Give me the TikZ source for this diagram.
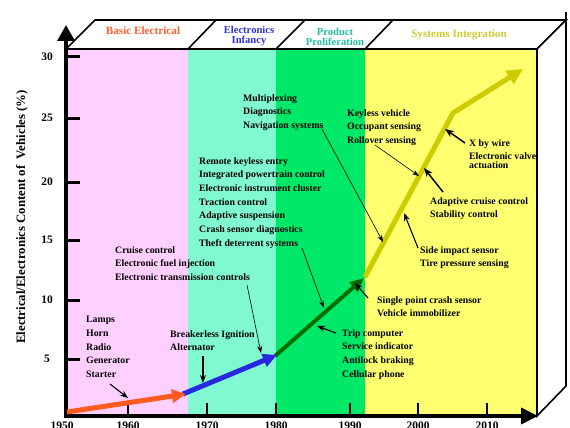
\documentclass[tikz,border=0pt]{standalone}
\usepackage{fontspec}
\setmainfont{Liberation Serif}
\usetikzlibrary{arrows.meta}
\definecolor{pinkbg}{RGB}{255,208,255}
\definecolor{aquabg}{RGB}{128,248,208}
\definecolor{greenbg}{RGB}{0,232,104}
\definecolor{yellowbg}{RGB}{255,255,112}
\definecolor{orangec}{RGB}{255,90,30}
\definecolor{bluec}{RGB}{40,40,224}
\definecolor{greenc}{RGB}{0,110,0}
\definecolor{olivec}{RGB}{204,204,0}
\definecolor{hdorange}{RGB}{255,96,48}
\definecolor{hdblue}{RGB}{50,50,220}
\definecolor{hdteal}{RGB}{32,192,160}
\definecolor{hdyellow}{RGB}{204,204,51}
\tikzset{
  boxline/.style={line width=1.6pt, line join=miter},
  axisline/.style={line width=3.6pt},
  ytick/.style={line width=3pt},
  xtick/.style={line width=2pt},
  ticklab/.style={font=\bfseries\fontsize{11.5}{13}\selectfont, inner sep=0pt},
  yearlab/.style={font=\bfseries\fontsize{11.5}{13}\selectfont, inner sep=0pt, anchor=north},
  header/.style={font=\bfseries\fontsize{11.2}{11}\selectfont, align=center, inner sep=0pt},
  header2/.style={font=\bfseries\fontsize{10.6}{10.2}\selectfont, align=center, inner sep=0pt},
  ann/.style={font=\bfseries\fontsize{9.8}{13.7}\selectfont, align=left, inner sep=0pt, anchor=north west},
  thinarr/.style={line width=0.6pt, -{Stealth[length=7pt,width=5pt]}},
  midarr/.style={line width=1.1pt, -{Stealth[length=8pt,width=6pt]}},
  thickarr/.style={line width=1.5pt, -{Stealth[length=9pt,width=7pt]}},
}
\begin{document}
\begin{tikzpicture}[x=1pt,y=-1pt]
\useasboundingbox (0,0) rectangle (570,428);
% era backgrounds
\fill[pinkbg] (66,49) rectangle (188,416);
\fill[aquabg] (188,49) rectangle (276,416);
\fill[greenbg] (276,49) rectangle (365,416);
\fill[yellowbg] (365,49) rectangle (537,416);
% 3D box faces
\draw[boxline, fill=white] (66,49) -- (95,20) -- (566,20) -- (537,49) -- cycle;
\draw[boxline, fill=white] (537,49) -- (566,20) -- (566,386) -- (537,416) -- cycle;
\draw[boxline] (566,12) -- (566,20);
\draw[boxline] (188,49) -- (216,20);
\draw[boxline] (276,49) -- (305,20);
\draw[boxline] (365,49) -- (393,20);
% headers
\node[header, text=hdorange] (h1) at (143,31) {Basic Electrical};
\node[header2, text=hdblue] (h2) at (249,36) {Electronics\\Infancy};
\node[header2, text=hdteal] (h3) at (335,37) {Product\\Proliferation};
\node[header, text=hdyellow] (h4) at (459,35) {Systems Integration};
% axes
\draw[axisline, -{Triangle[length=16pt,width=17pt]}] (66,418) -- (66,25);
\draw[axisline, -{Triangle[length=17pt,width=16pt]}] (64,416) -- (538,416);
% y ticks
\foreach \yy/\lab in {57/30,118/25,182/20,240/15,300/10,359/5}{
  \draw[ytick] (66,\yy) -- (80,\yy);
  \node[ticklab] at (47,\yy) {\lab};
}
% x ticks
\foreach \xx in {128,207,276,350,418,487}{
  \draw[xtick] (\xx,403) -- (\xx,416);
}
\node[yearlab] (y1950) at (62,422) {1950};
\node[yearlab] (y1960) at (128,422) {1960};
\node[yearlab] (y1970) at (207,422) {1970};
\node[yearlab] (y1980) at (276,422) {1980};
\node[yearlab] (y1990) at (350,422) {1990};
\node[yearlab] (y2000) at (418,422) {2000};
\node[yearlab] (y2010) at (487,422) {2010};
% y label
\node[rotate=90, font=\bfseries\fontsize{12.8}{14}\selectfont, inner sep=0pt] (ylab) at (22,217) {Electrical/Electronics Content of\ \ Vehicles (\%)};
% growth curve
\coordinate (c0) at (67,412);
\coordinate (c1) at (186,394);
\coordinate (c1b) at (183,394);
\coordinate (c2) at (277,355);
\coordinate (c2b) at (275,356);
\coordinate (c3) at (364,278);
\coordinate (c3b) at (365,277);
\coordinate (c4) at (453,113);
\coordinate (c5) at (523,69);
\draw[olivec, line width=5pt, line join=round, -{Triangle[length=16pt,width=15pt]}] (c3b) -- (c4) -- (c5);
\draw[greenc, line width=4pt, -{Triangle[length=14pt,width=12pt]}] (c2b) -- (c3);
\draw[bluec, line width=5pt, -{Triangle[length=14pt,width=13pt]}] (c1b) -- (c2);
\draw[orangec, line width=5pt, -{Triangle[length=14pt,width=13pt]}] (c0) -- (c1);
% annotations
\node[ann] (lamps) at (86,316) {Lamps\\Horn\\Radio\\Generator\\Starter};
\node[ann] (brk) at (170,330) {Breakerless Ignition\\Alternator};
\node[ann] (cruise) at (115,246) {Cruise control\\Electronic fuel injection\\Electronic transmission controls};
\node[ann] (remote) at (199,157) {Remote keyless entry\\Integrated powertrain control\\Electronic instrument cluster\\Traction control\\Adaptive suspension\\Crash sensor diagnostics\\Theft deterrent systems};
\node[ann] (multi) at (243,94) {Multiplexing\\Diagnostics\\Navigation systems};
\node[ann] (keyless) at (347,109) {Keyless vehicle\\Occupant sensing\\Rollover sensing};
\node[ann] (xwire) at (469,139) {X by wire};
\node[ann, font=\bfseries\fontsize{9.8}{9.4}\selectfont] (valve) at (469,152) {Electronic valve\\actuation};
\node[ann] (acc) at (430,197) {Adaptive cruise control\\Stability control};
\node[ann] (side) at (420,246) {Side impact sensor\\Tire pressure sensing};
\node[ann] (single) at (377,296) {Single point crash sensor\\Vehicle immobilizer};
\node[ann] (trip) at (342,329) {Trip computer\\Service indicator\\Antilock braking\\Cellular phone};
% annotation arrows
\coordinate (a1s) at (110,384); \coordinate (a1e) at (128,398);
\coordinate (a2s) at (203,356); \coordinate (a2e) at (203,383);
\coordinate (a3s) at (247,285); \coordinate (a3e) at (261,353);
\coordinate (a4s) at (302,248); \coordinate (a4e) at (324,308);
\coordinate (a5s) at (322,129); \coordinate (a5e) at (383,242);
\coordinate (a6s) at (375,145); \coordinate (a6e) at (419,176);
\coordinate (a7s) at (465,143); \coordinate (a7e) at (445,129);
\coordinate (a8s) at (443,192); \coordinate (a8e) at (424,168);
\coordinate (a9s) at (418,248); \coordinate (a9e) at (404,213);
\coordinate (a10s) at (368,298); \coordinate (a10e) at (355,283);
\coordinate (a11s) at (336,333); \coordinate (a11e) at (317,326);
\draw[midarr] (a1s) -- (a1e);
\draw[midarr] (a2s) -- (a2e);
\draw[thinarr] (a3s) -- (a3e);
\draw[thinarr] (a4s) -- (a4e);
\draw[thinarr] (a5s) -- (a5e);
\draw[thinarr] (a6s) -- (a6e);
\draw[thickarr] (a7s) -- (a7e);
\draw[thickarr] (a8s) -- (a8e);
\draw[midarr] (a9s) -- (a9e);
\draw[midarr] (a10s) -- (a10e);
\draw[midarr] (a11s) -- (a11e);
\end{tikzpicture}
\end{document}
